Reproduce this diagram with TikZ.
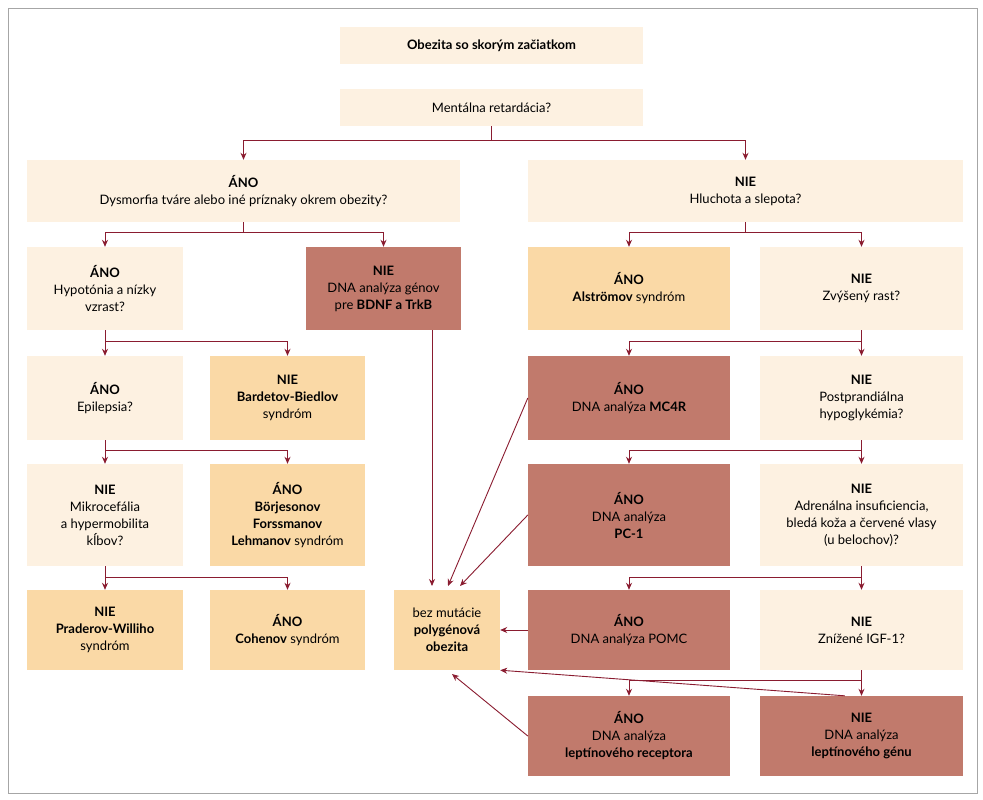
\documentclass[tikz,border=0pt]{standalone}
\usepackage{fontspec}
\setmainfont{Lato}
\usetikzlibrary{calc}
\usetikzlibrary{arrows.meta, positioning}

\definecolor{paleFill}{HTML}{FDF1E1}
\definecolor{sandFill}{HTML}{FAD9A6}
\definecolor{rustFill}{HTML}{C17A6C}
\definecolor{wineLine}{HTML}{8A1C30}

\begin{document}
\begin{tikzpicture}[
            x=1pt, y=-1pt,
            box/.style={rectangle, fill=paleFill, align=center, inner sep=2pt,
                        font=\fontsize{13}{17}\selectfont},
            sand/.style={box, fill=sandFill},
            rust/.style={box, fill=rustFill},
            arrow/.style={-{Stealth[length=7pt, width=6pt]}, wineLine, line width=0.9pt},
            link/.style={wineLine, line width=0.9pt}
        ]

        % frame
        \path[fill=white] (0,0) rectangle (983,800);
        \draw[gray!70, line width=0.8pt] (8,8) rectangle (977,793);

        % Top
        \node[box, minimum width=303, minimum height=37] (start) at (491.5,45.5) {\textbf{Obezita so skorým začiatkom}};
        \node[box, minimum width=303, minimum height=37] (mental) at (491.5,107.5) {Mentálna retardácia?};

        % Level 1
        \node[box, minimum width=433, minimum height=62] (dysm) at (243.5,191) {\textbf{ÁNO}\\Dysmorfia tváre alebo iné príznaky okrem obezity?};
        \node[box, minimum width=435, minimum height=62] (hluch) at (745.5,191) {\textbf{NIE}\\Hluchota a slepota?};

        % Level 2
        \node[box, minimum width=156, minimum height=83] (hypo) at (105,288.5) {\textbf{ÁNO}\\Hypotónia a nízky\\vzrast?};
        \node[rust, minimum width=155, minimum height=83] (bdnf) at (383.5,288.5) {\textbf{NIE}\\DNA analýza génov\\pre \textbf{BDNF a TrkB}};
        \node[sand, minimum width=202, minimum height=83] (alstr) at (629,288.5) {\textbf{ÁNO}\\\textbf{Alströmov} syndróm};
        \node[box, minimum width=203, minimum height=83] (rast) at (861.5,288.5) {\textbf{NIE}\\Zvýšený rast?};

        % Level 3
        \node[box, minimum width=156, minimum height=84] (epil) at (105,398) {\textbf{ÁNO}\\Epilepsia?};
        \node[sand, minimum width=155, minimum height=84] (bardet) at (287.5,398) {\textbf{NIE}\\\textbf{Bardetov-Biedlov}\\syndróm};
        \node[rust, minimum width=202, minimum height=84] (mcfour) at (629,398) {\textbf{ÁNO}\\DNA analýza \textbf{MC4R}};
        \node[box, minimum width=203, minimum height=84] (postpr) at (861.5,398) {\textbf{NIE}\\Postprandiálna\\hypoglykémia?};

        % Level 4
        \node[box, minimum width=156, minimum height=102] (mikro) at (105,515) {\textbf{NIE}\\Mikrocefália\\a hypermobilita\\kĺbov?};
        \node[sand, minimum width=155, minimum height=102] (borj) at (287.5,515) {\textbf{ÁNO}\\\textbf{Börjesonov}\\\textbf{Forssmanov}\\\textbf{Lehmanov} syndróm};
        \node[rust, minimum width=202, minimum height=102] (pcone) at (629,515) {\textbf{ÁNO}\\DNA analýza\\\textbf{PC-1}};
        \node[box, minimum width=203, minimum height=102] (adren) at (861.5,515) {\textbf{NIE}\\Adrenálna insuficiencia,\\bledá koža a červené vlasy\\(u belochov)?};

        % Level 5
        \node[sand, minimum width=156, minimum height=80] (prader) at (105,630) {\textbf{NIE}\\\textbf{Praderov-Williho}\\syndróm};
        \node[sand, minimum width=155, minimum height=80] (cohen) at (287.5,630) {\textbf{ÁNO}\\\textbf{Cohenov} syndróm};
        \node[sand, minimum width=106, minimum height=80] (poly) at (447,630) {bez mutácie\\\textbf{polygénová}\\\textbf{obezita}};
        \node[rust, minimum width=202, minimum height=80] (pomc) at (629,630) {\textbf{ÁNO}\\DNA analýza POMC};
        \node[box, minimum width=203, minimum height=80] (igf) at (861.5,630) {\textbf{NIE}\\Znížené IGF-1?};

        % Level 6
        \node[rust, minimum width=202, minimum height=80] (lepr) at (629,736) {\textbf{ÁNO}\\DNA analýza\\\textbf{leptínového receptora}};
        \node[rust, minimum width=203, minimum height=80] (lepg) at (861.5,736) {\textbf{NIE}\\DNA analýza\\\textbf{leptínového génu}};

        % Branching
        \foreach \p/\a/\b/\d in {mental/dysm/hluch/14, dysm/hypo/bdnf/10, hluch/alstr/rast/10,
                               hypo/epil/bardet/11, rast/mcfour/postpr/11, epil/mikro/borj/10,
                               postpr/pcone/adren/10, mikro/prader/cohen/11, adren/pomc/igf/11,
                               igf/lepr/lepg/10} {
            \coordinate (split) at ($(\p.south)+(0,\d)$);
            \draw[link] (\p.south) -- (split);
            \draw[arrow] (split) -| (\a.north);
            \draw[arrow] (split) -| (\b.north);
        }

        % Into polygenic obesity
        \draw[arrow] (bdnf.south -| 432,0) -- (432,586);
        \draw[arrow] (mcfour.west) -- (448,586);
        \draw[arrow] (pcone.west) -- (460,586);
        \draw[arrow] (pomc.west) -- (poly.east);
        \draw[arrow] (lepg.north west) ++(85,0) -- (poly.south east);
        \draw[arrow] (lepr.west) -- (452,674);

    \end{tikzpicture}
\end{document}
